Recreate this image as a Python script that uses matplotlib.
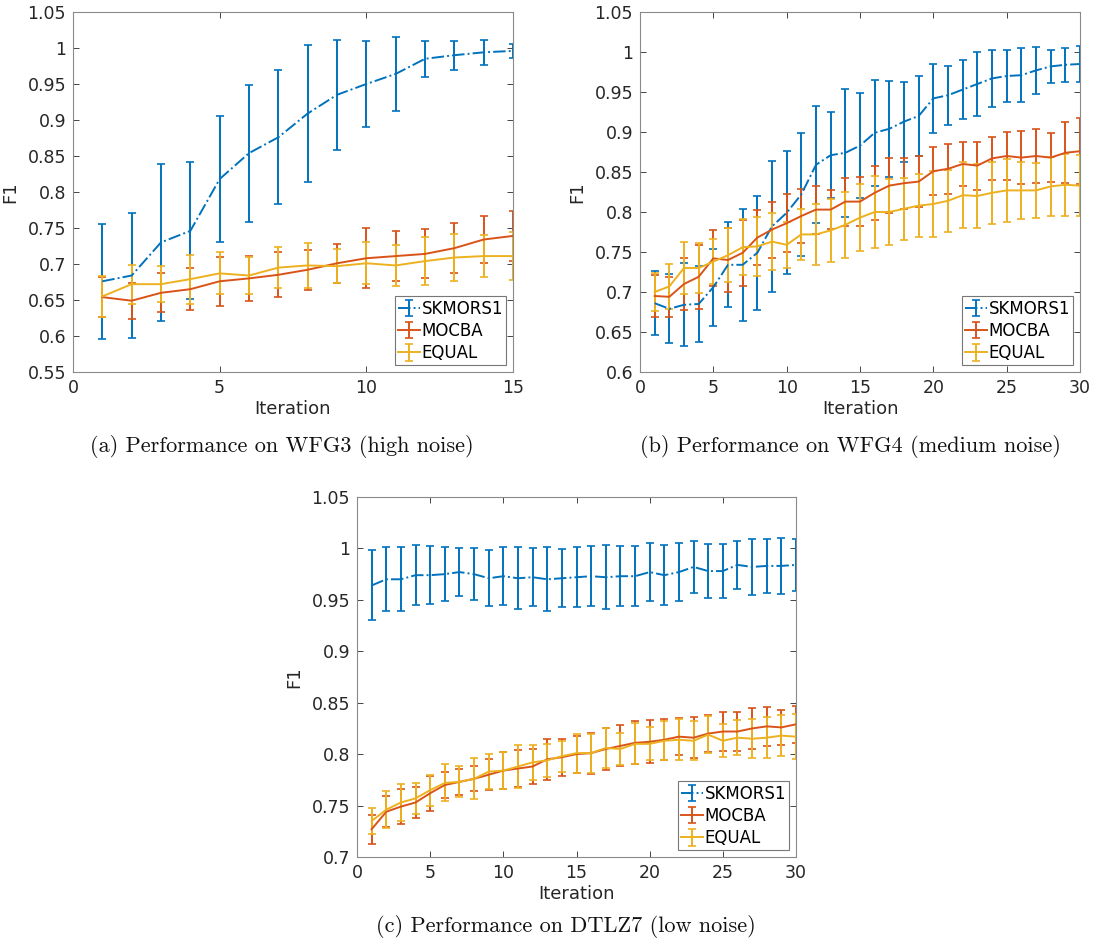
import matplotlib
matplotlib.use("Agg")
import matplotlib.pyplot as plt
import numpy as np
from matplotlib.ticker import FuncFormatter

# colours (MATLAB defaults)
C_SK = "#0072BD"
C_MO = "#D95319"
C_EQ = "#EDB120"

# ---- (a) WFG3, high noise ----
iters_a = list(range(1, 16))
sk_a = [0.676, 0.684, 0.730, 0.746, 0.818, 0.854, 0.876, 0.909, 0.935, 0.950, 0.964, 0.985, 0.990, 0.994, 0.996]
sk_a_err = [0.080, 0.087, 0.109, 0.095, 0.088, 0.095, 0.093, 0.095, 0.076, 0.060, 0.051, 0.025, 0.020, 0.017, 0.010]
mo_a = [0.654, 0.649, 0.660, 0.665, 0.676, 0.680, 0.685, 0.692, 0.701, 0.708, 0.711, 0.714, 0.722, 0.734, 0.739]
mo_a_err = [0.028, 0.025, 0.027, 0.029, 0.034, 0.031, 0.031, 0.028, 0.027, 0.042, 0.035, 0.034, 0.035, 0.033, 0.035]
eq_a = [0.655, 0.672, 0.672, 0.679, 0.687, 0.684, 0.695, 0.698, 0.697, 0.701, 0.698, 0.704, 0.709, 0.711, 0.711]
eq_a_err = [0.029, 0.027, 0.025, 0.034, 0.029, 0.026, 0.029, 0.031, 0.024, 0.029, 0.029, 0.033, 0.032, 0.029, 0.033]

# ---- (b) WFG4, medium noise ----
iters_b = list(range(1, 31))
sk_b = [0.686, 0.679, 0.684, 0.685, 0.706, 0.734, 0.734, 0.749, 0.782, 0.799, 0.822, 0.859, 0.871, 0.874, 0.883,
        0.899, 0.904, 0.913, 0.920, 0.942, 0.946, 0.953, 0.960, 0.967, 0.970, 0.971, 0.977, 0.982, 0.984, 0.985]
sk_b_err = [0.040, 0.043, 0.052, 0.047, 0.048, 0.053, 0.070, 0.071, 0.082, 0.077, 0.077, 0.073, 0.054, 0.080, 0.066,
            0.066, 0.060, 0.050, 0.050, 0.043, 0.037, 0.037, 0.040, 0.036, 0.032, 0.034, 0.029, 0.021, 0.021, 0.022]
mo_b = [0.695, 0.694, 0.710, 0.719, 0.742, 0.740, 0.749, 0.768, 0.778, 0.786, 0.795, 0.803, 0.803, 0.813, 0.813,
        0.824, 0.833, 0.836, 0.838, 0.851, 0.854, 0.860, 0.858, 0.867, 0.870, 0.868, 0.870, 0.868, 0.874, 0.876]
mo_b_err = [0.026, 0.025, 0.032, 0.040, 0.035, 0.040, 0.041, 0.034, 0.035, 0.036, 0.034, 0.030, 0.024, 0.030, 0.031,
            0.034, 0.034, 0.032, 0.032, 0.030, 0.031, 0.028, 0.030, 0.027, 0.030, 0.033, 0.034, 0.031, 0.038, 0.041]
eq_b = [0.700, 0.707, 0.730, 0.730, 0.738, 0.746, 0.756, 0.757, 0.763, 0.759, 0.772, 0.772, 0.777, 0.784, 0.793,
        0.800, 0.800, 0.804, 0.808, 0.810, 0.814, 0.821, 0.820, 0.824, 0.827, 0.827, 0.827, 0.832, 0.834, 0.833]
eq_b_err = [0.024, 0.028, 0.032, 0.031, 0.028, 0.034, 0.035, 0.037, 0.036, 0.029, 0.032, 0.038, 0.039, 0.041, 0.042,
            0.045, 0.041, 0.039, 0.039, 0.041, 0.039, 0.041, 0.040, 0.039, 0.039, 0.036, 0.034, 0.037, 0.039, 0.038]

# ---- (c) DTLZ7, low noise ----
iters_c = list(range(1, 31))
sk_c = [0.964, 0.970, 0.970, 0.974, 0.974, 0.975, 0.977, 0.975, 0.971, 0.973, 0.971, 0.972, 0.970, 0.971, 0.972,
        0.973, 0.972, 0.973, 0.973, 0.977, 0.974, 0.977, 0.982, 0.978, 0.978, 0.984, 0.982, 0.983, 0.983, 0.984]
sk_c_err = [0.034, 0.031, 0.031, 0.029, 0.028, 0.026, 0.023, 0.025, 0.027, 0.028, 0.030, 0.028, 0.031, 0.028, 0.029,
            0.029, 0.031, 0.029, 0.029, 0.028, 0.029, 0.028, 0.025, 0.026, 0.026, 0.023, 0.027, 0.026, 0.027, 0.025]
mo_c = [0.727, 0.744, 0.749, 0.753, 0.762, 0.770, 0.773, 0.776, 0.780, 0.784, 0.786, 0.788, 0.795, 0.797, 0.800,
        0.801, 0.805, 0.808, 0.811, 0.812, 0.814, 0.817, 0.816, 0.820, 0.822, 0.822, 0.825, 0.827, 0.826, 0.829]
mo_c_err = [0.014, 0.015, 0.017, 0.015, 0.017, 0.013, 0.013, 0.012, 0.015, 0.018, 0.018, 0.017, 0.020, 0.018, 0.018,
            0.020, 0.020, 0.020, 0.021, 0.021, 0.020, 0.018, 0.020, 0.018, 0.019, 0.019, 0.020, 0.019, 0.017, 0.018]
eq_c = [0.735, 0.746, 0.753, 0.757, 0.765, 0.772, 0.773, 0.776, 0.783, 0.784, 0.788, 0.792, 0.794, 0.798, 0.801,
        0.801, 0.806, 0.805, 0.810, 0.810, 0.813, 0.814, 0.813, 0.819, 0.813, 0.816, 0.815, 0.816, 0.818, 0.817]
eq_c_err = [0.013, 0.018, 0.018, 0.015, 0.015, 0.018, 0.015, 0.020, 0.017, 0.018, 0.021, 0.017, 0.016, 0.015, 0.019,
            0.019, 0.019, 0.016, 0.020, 0.016, 0.019, 0.020, 0.019, 0.018, 0.016, 0.017, 0.019, 0.020, 0.020, 0.022]

labels = ["SKMORS1", "MOCBA", "EQUAL"]
captions = ["(a) Performance on WFG3 (high noise)",
            "(b) Performance on WFG4 (medium noise)",
            "(c) Performance on DTLZ7 (low noise)"]

plt.rcParams["font.family"] = "DejaVu Sans"
fig = plt.figure(figsize=(10.96, 9.49), dpi=100)

fmt = FuncFormatter(lambda v, p: "%g" % round(v, 4))


def panel(rect, x, series, xlim, xticks, ylim, yticks):
    ax = fig.add_axes(rect)
    for (y, e, c, ls), lab in zip(series, labels):
        ax.errorbar(x, y, yerr=e, color=c, ls=ls, lw=1.4, elinewidth=1.4,
                    capsize=2.6, capthick=1.2, label=lab)
    ax.set_xlim(*xlim)
    ax.set_ylim(*ylim)
    ax.set_xticks(xticks)
    ax.set_yticks(yticks)
    ax.yaxis.set_major_formatter(fmt)
    ax.tick_params(direction="in", top=True, right=True, length=4, width=0.6,
                   labelsize=12.5, colors="#262626", pad=5)
    for s in ax.spines.values():
        s.set_color("#8a8a8a")
        s.set_linewidth(0.8)
    ax.set_xlabel("Iteration", fontsize=13, color="#262626", labelpad=2)
    ax.set_ylabel("F1", fontsize=13, color="#262626", labelpad=6)
    leg = ax.legend(loc="lower right", fontsize=12, frameon=True, fancybox=False,
                    handlelength=1.3, handletextpad=0.1, borderpad=0.2, labelspacing=0.25,
                    borderaxespad=0.4)
    leg.get_frame().set_edgecolor("#555555")
    leg.get_frame().set_linewidth(0.8)
    return ax


panel([73 / 1096, 1 - 372 / 949, 440 / 1096, 360 / 949], iters_a,
      [(sk_a, sk_a_err, C_SK, "-."), (mo_a, mo_a_err, C_MO, "-"), (eq_a, eq_a_err, C_EQ, "-")],
      (0, 15), [0, 5, 10, 15], (0.55, 1.05), np.arange(0.55, 1.051, 0.05))

panel([640 / 1096, 1 - 372 / 949, 440 / 1096, 360 / 949], iters_b,
      [(sk_b, sk_b_err, C_SK, "-."), (mo_b, mo_b_err, C_MO, "-"), (eq_b, eq_b_err, C_EQ, "-")],
      (0, 30), [0, 5, 10, 15, 20, 25, 30], (0.6, 1.05), np.arange(0.6, 1.051, 0.05))

panel([357 / 1096, 1 - 857 / 949, 439 / 1096, 360 / 949], iters_c,
      [(sk_c, sk_c_err, C_SK, "-."), (mo_c, mo_c_err, C_MO, "-"), (eq_c, eq_c_err, C_EQ, "-")],
      (0, 30), [0, 5, 10, 15, 20, 25, 30], (0.7, 1.05), np.arange(0.7, 1.051, 0.05))

cap_font = dict(family="cmr10", fontsize=16, color="#111111", ha="center", va="center")
fig.text(282 / 1096, 1 - 447 / 949, captions[0], **cap_font)
fig.text(850 / 1096, 1 - 447 / 949, captions[1], **cap_font)
fig.text(566 / 1096, 1 - 927 / 949, captions[2], **cap_font)

fig.savefig("out.png", dpi=100)
